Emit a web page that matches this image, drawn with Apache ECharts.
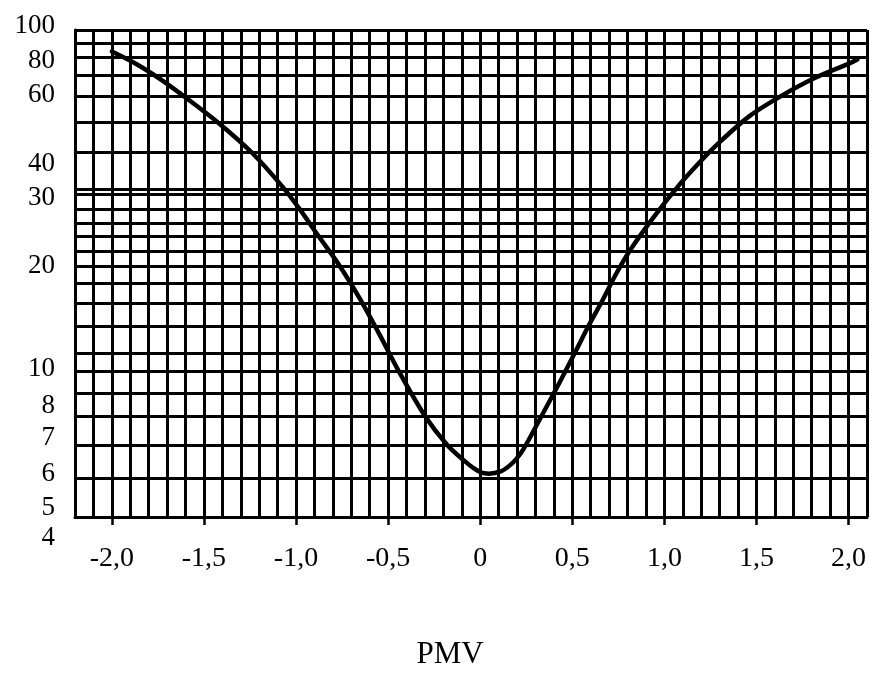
<!DOCTYPE html>
<html>
<head>
<meta charset="utf-8">
<script src="https://cdn.jsdelivr.net/npm/echarts@6/dist/echarts.min.js"></script>
<style>
  html, body { margin: 0; padding: 0; background: #fff; }
  #chart { width: 873px; height: 675px; }
</style>
</head>
<body>
<div id="chart"></div>
<script>
// PMV readings along the curve
const pmv = [-2.0, -1.863, -1.733, -1.584, -1.419, -1.239, -1.074, -0.983, -0.882, -0.769,
             -0.656, -0.547, -0.441, -0.30, -0.178, -0.084, -0.037, 0.006, 0.047, 0.111,
             0.156, 0.20, 0.247, 0.333, 0.428, 0.516, 0.589, 0.665, 0.736, 0.811,
             0.944, 1.084, 1.194, 1.290, 1.46, 1.635, 1.816, 2.005, 2.048];
// PPD (%) at each PMV reading
const ppd = [84.1, 76.5, 67.2, 57.6, 50.0, 41.9, 32.0, 27.5, 23.4, 19.55,
             15.5, 12.06, 9.41, 7.42, 6.54, 6.10, 5.90, 5.75, 5.72, 5.79,
             5.96, 6.18, 6.54, 7.42, 8.75, 10.68, 12.82, 15.28, 18.21, 21.24,
             26.17, 32.68, 39.6, 44.2, 52.1, 58.9, 68.1, 77.2, 79.8];

// Horizontal axis ticks
const xTickValues = [-2, -1.5, -1, -0.5, 0, 0.5, 1, 1.5, 2];
const xTickLabels = ['-2,0', '-1,5', '-1,0', '-0,5', '0', '0,5', '1,0', '1,5', '2,0'];

// Vertical axis ticks (PPD, %)
const yTickValues = [4, 5, 6, 7, 8, 10, 20, 30, 40, 60, 80, 100];
const yTickLabels = ['4', '5', '6', '7', '8', '10', '20', '30', '40', '60', '80', '100'];

// The graph paper: its vertical scale runs 0 (bottom edge) .. 100 (top edge).
// Where each PPD tick sits on that paper scale.
const yTickPaper = [-2.2, 3.8, 10.7, 17.9, 24.4, 31.9, 52.6, 66.3, 73.2, 87.1, 94.0, 101.0];
// Horizontal rulings of the paper
const paperRulings = [0, 7.9, 14.7, 20.6, 25.4, 30.0, 33.7, 39.1, 43.8, 48.0, 51.5,
                      54.5, 57.7, 60.4, 63.1, 66.3, 67.4, 75.0, 81.0, 86.3, 90.7,
                      94.5, 97.3, 100];

// PPD -> paper scale, log-interpolated between neighbouring ticks
function toPaper(v) {
  let i = 0;
  while (i < yTickValues.length - 2 && v > yTickValues[i + 1]) i++;
  const a = yTickValues[i], b = yTickValues[i + 1];
  const t = Math.log(v / a) / Math.log(b / a);
  return yTickPaper[i] + t * (yTickPaper[i + 1] - yTickPaper[i]);
}

const curve = pmv.map((x, i) => [x, toPaper(ppd[i])]);

// Layout
const plotTop = 30, plotBottom = 149, plotLeft = 75, plotRight = 6;
const pxPerUnit = (675 - plotTop - plotBottom) / 100;
const labelPad = 6; // extra paper units above/below for the tick label band
const font = "'Liberation Serif', 'Times New Roman', serif";
const ink = '#000';

const chart = echarts.init(document.getElementById('chart'), null, { renderer: 'canvas' });
chart.setOption({
  animation: false,
  backgroundColor: '#fff',
  grid: [
    { left: plotLeft, right: plotRight, top: plotTop, bottom: plotBottom, containLabel: false },
    { left: plotLeft, right: plotRight,
      top: plotTop - labelPad * pxPerUnit + 1, bottom: plotBottom - labelPad * pxPerUnit - 1,
      containLabel: false }
  ],
  xAxis: [
    { // vertical rulings every 0.1 PMV
      type: 'value', gridIndex: 0, min: -2.2, max: 2.1, interval: 0.1,
      axisLine: { show: true, onZero: false, lineStyle: { color: ink, width: 3 } },
      axisTick: { show: false },
      axisLabel: { show: false },
      splitLine: { show: true, lineStyle: { color: ink, width: 3 } }
    },
    { // PMV ticks and labels
      type: 'value', gridIndex: 0, min: -2.2, max: 2.1, position: 'bottom',
      axisLine: { show: false, onZero: false },
      axisTick: { show: true, customValues: xTickValues, length: 8, inside: false,
                  lineStyle: { color: ink, width: 2.5 } },
      axisLabel: { show: true, customValues: xTickValues, margin: 28,
                   color: ink, fontFamily: font, fontSize: 28,
                   formatter: v => {
                     const k = xTickValues.findIndex(t => Math.abs(t - v) < 1e-6);
                     return k >= 0 ? xTickLabels[k] : '';
                   } },
      splitLine: { show: false },
      name: 'PMV', nameLocation: 'middle', nameGap: 122,
      nameTextStyle: { color: ink, fontFamily: font, fontSize: 31, padding: [0, 42, 0, 0] }
    },
    { type: 'value', gridIndex: 1, min: 0, max: 1, show: false }
  ],
  yAxis: [
    { // horizontal rulings of the paper
      type: 'value', gridIndex: 0, min: 0, max: 100,
      axisLine: { show: true, onZero: false, lineStyle: { color: ink, width: 3 } },
      axisTick: { show: true, length: 0, customValues: paperRulings,
                  lineStyle: { color: ink, width: 0, opacity: 0 } },
      axisLabel: { show: false },
      splitLine: { show: true, lineStyle: { color: ink, width: 3 } }
    },
    { // PPD labels
      type: 'value', gridIndex: 1, min: -labelPad, max: 100 + labelPad,
      axisLine: { show: false },
      axisTick: { show: false },
      splitLine: { show: false },
      axisLabel: { show: true, customValues: yTickPaper, margin: 20,
                   color: ink, fontFamily: font, fontSize: 27,
                   formatter: v => {
                     const k = yTickPaper.findIndex(t => Math.abs(t - v) < 1e-6);
                     return k >= 0 ? yTickLabels[k] : '';
                   } }
    }
  ],
  series: [{
    type: 'line',
    xAxisIndex: 0, yAxisIndex: 0,
    data: curve,
    smooth: 0.3,
    symbol: 'none',
    lineStyle: { color: ink, width: 4.5, cap: 'round', join: 'round' },
    z: 5
  }]
});
</script>
</body>
</html>
